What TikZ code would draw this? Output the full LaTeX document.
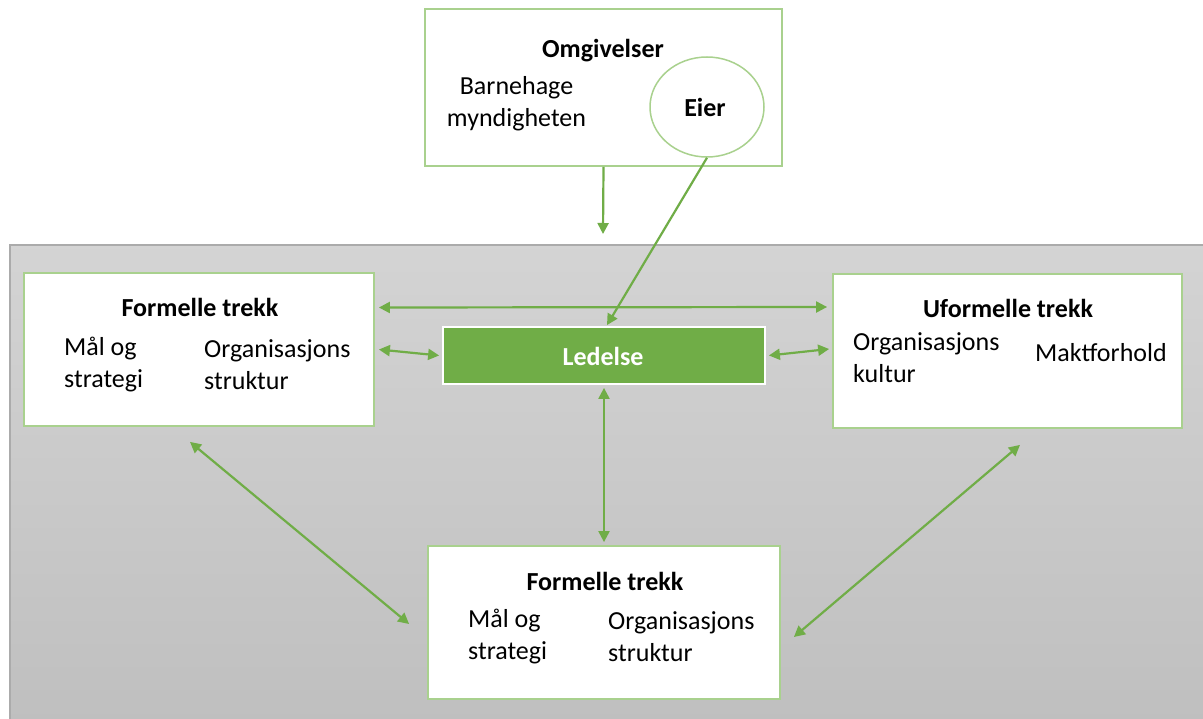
\documentclass[tikz,border=0pt]{standalone}
\usepackage{fontspec}
\setmainfont{Carlito}
\usetikzlibrary{arrows.meta,shapes.geometric}
\definecolor{lysgronn}{HTML}{A9D18E}
\definecolor{gronn}{HTML}{70AD47}
\tikzset{
  boks/.style={draw=lysgronn,line width=1.8pt,fill=white},
  tekst/.style={font=\fontsize{26}{32}\selectfont,align=left,inner sep=0pt},
  tittel/.style={font=\fontsize{26}{32}\selectfont\bfseries,inner sep=0pt},
  pil/.style={draw=gronn,line width=2.2pt,{Triangle[length=11pt,width=11pt]}-{Triangle[length=11pt,width=11pt]}},
  enpil/.style={draw=gronn,line width=2.2pt,-{Triangle[length=11pt,width=11pt]}}
}
\begin{document}
\begin{tikzpicture}[x=1pt,y=-1pt]
      \useasboundingbox[fill=white] (0,0) rectangle (1203,719);
      \shade[top color=black!17,bottom color=black!25] (10,245) rectangle (1203,719);
      \draw[black!33,line width=1.2pt] (10,719) -- (10,245) -- (1203,245);
      \draw
        (603.5,87.5) node[boks,minimum width=357,minimum height=157] (omg){}
        (199,349.5) node[boks,minimum width=350,minimum height=153] (formell){}
        (1007.5,351) node[boks,minimum width=349,minimum height=154] (uformell){}
        (604,622.5) node[boks,minimum width=352,minimum height=153] (bunn){}
        (604,355.5) node[draw=white,line width=1.8pt,fill=gronn,minimum width=322,minimum height=57] (ledelse){}
        (707,107) node[ellipse,draw=lysgronn,line width=1.5pt,fill=white,minimum width=114,minimum height=100] (eier){};
      \node[tittel] (omgtittel) at (603,51) {Omgivelser};
      \node[tekst,align=center] (barnehage) at (516.5,104) {Barnehage\\myndigheten};
      \node[tittel] (eiertekst) at (705,107) {Eier};
      \node[tittel] (formelltittel) at (200,307) {Formelle trekk};
      \node[tekst,anchor=west] (mal1) at (64,365) {Mål og\\strategi};
      \node[tekst,anchor=west] (struktur1) at (204,365) {Organisasjons\\struktur};
      \node[tittel] (uformelltittel) at (1008,308) {Uformelle trekk};
      \node[tekst,anchor=west] (kultur) at (853,358) {Organisasjons\\kultur};
      \node[tekst,anchor=west] (makt) at (1035,353) {Maktforhold};
      \node[tittel,text=white] (ledelsetekst) at (603,356) {Ledelse};
      \node[tittel] (bunntittel) at (605,581) {Formelle trekk};
      \node[tekst,anchor=west] (mal2) at (468,637) {Mål og\\strategi};
      \node[tekst,anchor=west] (struktur2) at (608,637) {Organisasjons\\struktur};
      \coordinate (inn) at (603,234);
      \begin{scope}[enpil]
        \draw (omg.south) to (inn);
        \draw (eier.south) to ([xshift=3pt,yshift=1pt]ledelse.north);
      \end{scope}
      \begin{scope}[pil]
        \draw ([xshift=4pt,yshift=42pt]formell.east) to ([xshift=-5pt,yshift=44pt]uformell.west);
        \draw ([xshift=4pt]formell.east) to ([xshift=-3pt]ledelse.west);
        \draw ([xshift=3pt]ledelse.east) to ([xshift=-3pt,yshift=2pt]uformell.west);
        \draw ([yshift=-3pt]ledelse.south) to ([yshift=3pt]bunn.north);
        \draw ([xshift=-9pt,yshift=-15pt]formell.south) to ([xshift=-18pt,yshift=-1.5pt]bunn.west);
        \draw ([xshift=12.5pt,yshift=-16pt]uformell.south) to ([xshift=13pt,yshift=-14.5pt]bunn.east);
      \end{scope}
    \end{tikzpicture}
\end{document}
